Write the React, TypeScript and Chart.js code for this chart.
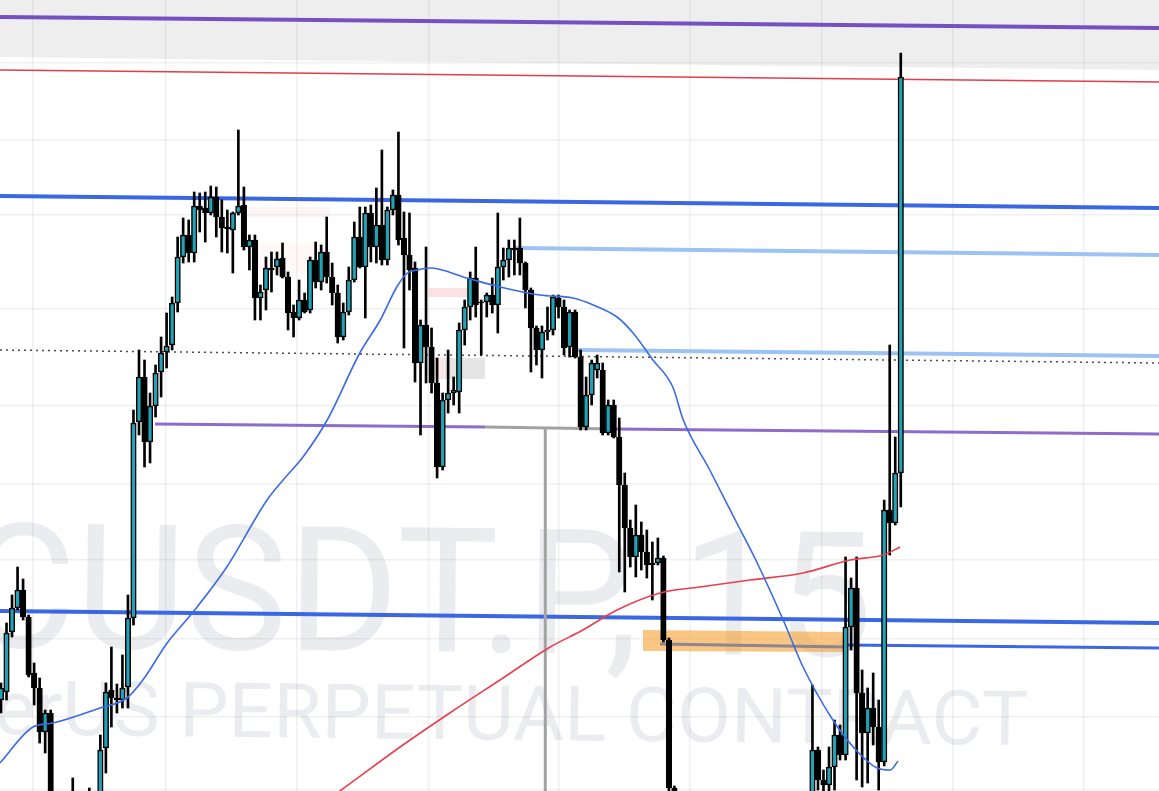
import React, { useEffect, useRef } from 'react';
import { Chart, registerables } from 'chart.js';

Chart.register(...registerables);

// ---- candles (index = bar number, price units) ----
const opens = [
  300, 308, 368, 392, 410, 383, 327, 312, 268, 287,
  170, 140, 155, 130, 170, 150, 165, 160, 190, 252,
  310, 302, 300, 313, 382, 578, 623, 558, 594, 628,
  648, 655, 697, 743, 765, 747, 794, 792, 787, 803,
  783, 773, 770, 787, 795, 753, 760, 702, 710, 732,
  733, 742, 723, 688, 682, 700, 690, 740, 718, 748,
  723, 707, 663, 688, 720, 763, 733, 787, 753, 775,
  740, 790, 805, 762, 745, 732, 637, 675, 653, 617,
  533, 600, 607, 608, 670, 693, 722, 698, 698, 705,
  695, 733, 740, 752, 752, 737, 710, 672, 650, 668,
  670, 702, 693, 653, 688, 643, 573, 605, 630, 630,
  567, 595, 563, 515, 472, 443, 465, 448, 437, 437,
  442, 360, 212, 200, 175, 155, 165, 125, 110, 120,
  95, 80, 90, 85, 110, 100, 120, 115, 135, 125,
  150, 140, 160, 155, 175, 170, 185, 200, 250, 220,
  215, 233, 265, 245, 373, 412, 307, 267, 292, 273,
  238, 490, 477, 527,
];
const highs = [
  317, 377, 405, 433, 421, 385, 337, 322, 290, 290,
  175, 165, 180, 222, 185, 200, 212, 205, 265, 317,
  353, 316, 345, 405, 590, 650, 640, 607, 635, 663,
  687, 703, 763, 782, 780, 808, 807, 808, 814, 813,
  800, 790, 788, 870, 813, 765, 765, 715, 743, 748,
  748, 757, 728, 695, 720, 707, 743, 758, 755, 783,
  737, 715, 697, 733, 778, 793, 793, 795, 812, 850,
  793, 810, 868, 788, 787, 738, 680, 753, 672, 642,
  607, 650, 623, 677, 700, 728, 753, 700, 707, 722,
  787, 752, 760, 760, 782, 738, 712, 674, 674, 693,
  705, 705, 700, 690, 690, 650, 623, 640, 645, 637,
  600, 600, 582, 527, 480, 495, 478, 470, 458, 462,
  444, 362, 214, 205, 185, 170, 175, 140, 130, 135,
  110, 100, 105, 120, 125, 130, 140, 145, 150, 155,
  165, 170, 180, 185, 195, 200, 202, 315, 253, 230,
  253, 280, 275, 443, 422, 443, 330, 312, 327, 300,
  500, 655, 563, 947,
];
const lows = [
  287, 300, 363, 390, 380, 323, 295, 257, 247, 160,
  130, 125, 120, 115, 140, 135, 150, 150, 185, 227,
  273, 287, 292, 292, 375, 565, 533, 537, 583, 603,
  632, 650, 688, 737, 738, 738, 768, 758, 785, 763,
  748, 747, 727, 785, 750, 730, 680, 680, 690, 708,
  725, 722, 670, 663, 680, 687, 687, 712, 710, 717,
  695, 657, 660, 685, 718, 732, 682, 738, 737, 735,
  735, 785, 755, 652, 710, 618, 565, 617, 607, 522,
  530, 587, 595, 587, 655, 680, 683, 645, 683, 687,
  667, 720, 723, 725, 725, 692, 628, 635, 622, 660,
  665, 682, 645, 643, 642, 570, 570, 595, 622, 565,
  565, 562, 428, 408, 433, 423, 430, 422, 400, 435,
  358, 205, 190, 170, 150, 130, 120, 100, 95, 90,
  70, 65, 75, 80, 95, 90, 105, 110, 120, 115,
  135, 130, 150, 145, 160, 155, 175, 195, 210, 200,
  205, 210, 240, 240, 350, 220, 213, 217, 255, 210,
  234, 445, 475, 493,
];
const closes = [
  312, 367, 392, 410, 383, 325, 312, 268, 287, 170,
  140, 155, 130, 170, 150, 165, 160, 190, 250, 308,
  302, 300, 312, 382, 577, 623, 558, 594, 627, 647,
  654, 697, 743, 765, 747, 794, 790, 787, 803, 783,
  772, 771, 787, 794, 753, 760, 702, 708, 732, 730,
  741, 723, 687, 682, 700, 688, 740, 718, 748, 723,
  707, 663, 688, 720, 763, 733, 787, 753, 775, 740,
  790, 805, 760, 745, 730, 637, 675, 653, 617, 533,
  600, 607, 610, 670, 693, 722, 695, 697, 705, 695,
  733, 740, 752, 750, 737, 710, 672, 650, 668, 670,
  703, 693, 652, 688, 643, 573, 605, 637, 637, 567,
  595, 563, 515, 472, 443, 465, 448, 435, 435, 442,
  360, 212, 200, 175, 155, 165, 125, 110, 120, 95,
  80, 90, 85, 110, 100, 120, 115, 135, 125, 150,
  140, 160, 155, 175, 170, 185, 200, 250, 220, 215,
  233, 265, 245, 373, 412, 307, 267, 292, 273, 238,
  490, 477, 527, 923,
];

// ---- moving averages (bar position, price) ----
const blueMaX = [-0.2, 5.8, 9.4, 17.9, 22.8, 25.7, 30.1, 34.8, 40.9, 48.2, 51.1, 54.7, 59.1, 65.0, 68.7, 71.7, 73.6, 75.4, 77.7, 84.4, 90.4, 97.6, 103.6, 107.3, 111.6, 114.5, 118.1, 121.7, 123.6, 128.4, 133.3, 137.0, 141.7, 145.3, 150.7, 154.4, 158.7, 161.1, 162.5];
const blueMaY = [237, 273, 277, 292, 302, 320, 357, 388, 433, 500, 520, 543, 580, 647, 680, 713, 727, 730, 732, 722, 713, 705, 702, 695, 683, 667, 640, 613, 580, 530, 477, 437, 380, 333, 280, 253, 232, 230, 239];
const redMaX = [57.8, 61.4, 72.3, 81.3, 90.4, 99.5, 105.4, 111.6, 119.4, 126.6, 135.7, 145.3, 153.8, 159.8, 162.9];
const redMaY = [195, 209, 253, 287, 320, 353, 370, 390, 407, 413, 420, 427, 440, 445, 453];

// ---- drawn levels ([start, end]) ----
const X_MIN = -0.181;
const X_MAX = 209.78;
const Y_MIN = 209;
const Y_MAX = 1000;
const fullX = [X_MIN, X_MAX];
const purpleTopY = [983, 972];
const bandEdgeY = [943, 930];
const redLevelY = [930, 918];
const blueUpperY = [804, 792];
const lightBlue1X = [93.1, X_MAX];
const lightBlue1Y = [752, 745];
const lightBlue2X = [104.0, X_MAX];
const lightBlue2Y = [650, 644];
const dottedY = [650, 637];
const purpleMidAX = [27.9, 87.7];
const purpleMidAY = [576, 573];
const grayMidX = [87.7, 111.2];
const grayMidY = [573, 571];
const purpleMidBX = [111.2, X_MAX];
const purpleMidBY = [571, 566];
const grayVertX = [98.6, 98.6];
const grayVertY = [573, 200];
const blueLowerY = [389, 377];
const blueLower2X = [152.9, X_MAX];
const blueLower2Y = [355, 352];
const orangeX = [116.3, 152.9];
const orangeTopY = [370, 368];
const orangeBottomY = [349, 348];
const grayInOrangeX = [119.4, 152.9];
const grayInOrangeY = [356, 353];
const pinkBoxX = [77.4, 85.0];
const pinkBoxTopY = [712, 712];
const pinkBoxBottomY = [703, 703];
const grayBoxX = [80.4, 87.7];
const grayBoxTopY = [642, 642];
const grayBoxBottomY = [621, 621];
const pinkSmallX = [78.3, 80.4];
const faintPink1X = [44.7, 59.6];
const faintPink1TopY = [793, 793];
const faintPink1BottomY = [783, 783];
const faintPink2X = [45.7, 59.6];
const faintPink2TopY = [757, 757];
const faintPink2BottomY = [727, 727];

const gridX = [5.8, 29.9, 53.6, 77.4, 101.1, 124.8, 148.7, 172.5, 196.2];
const gridY = [937, 860, 785, 691, 594, 516, 440, 361, 283, 210];

const wmLine1 = 'BTCUSDT.P, 15';
const wmLine1Tail = 'USDT.P, 15';
const wmLine2 = 'Bitcoin / TetherUS PERPETUAL CONTRACT';
const wmLine2Tail = 'US PERPETUAL CONTRACT';

const TEAL = '#22a2b4';

function seg(xs: number[], ys: number[]) {
  return [
    { x: xs[0], y: ys[0] },
    { x: xs[1], y: ys[1] },
  ];
}

function lineDs(xs: number[], ys: number[], color: string, width: number, order: number, extra: any = {}) {
  return {
    type: 'line',
    data: seg(xs, ys),
    borderColor: color,
    borderWidth: width,
    pointRadius: 0,
    fill: false,
    order,
    ...extra,
  };
}

function rectDs(xs: number[], top: number[], bottom: number[], color: string, order: number) {
  return [
    {
      type: 'line',
      data: seg(xs, top),
      borderWidth: 0,
      borderColor: 'rgba(0,0,0,0)',
      pointRadius: 0,
      fill: '+1',
      backgroundColor: color,
      order,
    },
    {
      type: 'line',
      data: seg(xs, bottom),
      borderWidth: 0,
      borderColor: 'rgba(0,0,0,0)',
      pointRadius: 0,
      fill: false,
      order,
    },
  ];
}

const watermarkPlugin = {
  id: 'watermark',
  beforeDraw(chart: any) {
    const { ctx } = chart;
    ctx.save();
    ctx.fillStyle = 'rgba(150,160,175,0.2)';
    ctx.textAlign = 'right';
    ctx.textBaseline = 'alphabetic';

    ctx.font = '174px Roboto, "Liberation Sans", sans-serif';
    let s = (872 - 75) / ctx.measureText(wmLine1Tail).width;
    ctx.save();
    ctx.translate(872, 656);
    ctx.rotate(0.0103);
    ctx.scale(s, 1);
    ctx.fillText(wmLine1, 0, 0);
    ctx.restore();

    ctx.font = '76px Roboto, "Liberation Sans", sans-serif';
    s = (1028 - 62) / ctx.measureText(wmLine2Tail).width;
    ctx.save();
    ctx.translate(1028, 745);
    ctx.rotate(0.0103);
    ctx.scale(s, 1);
    ctx.fillText(wmLine2, 0, 0);
    ctx.restore();

    ctx.restore();
  },
};

export default function App() {
  const ref = useRef<HTMLCanvasElement | null>(null);

  useEffect(() => {
    document.body.style.margin = '0';
    document.body.style.background = '#ffffff';
    const canvas = ref.current;
    if (!canvas) return;

    const wicks = opens.map((_, i) => ({ x: i, y: [lows[i], highs[i]] }));
    const bodies = opens.map((o, i) => ({ x: i, y: [o, closes[i]] }));
    const bodyColors = opens.map((o, i) => (closes[i] > o ? TEAL : '#000000'));

    const datasets: any[] = [
      lineDs(fullX, bandEdgeY, 'rgba(0,0,0,0)', 0, 100, { fill: 'end', backgroundColor: 'rgba(0,0,0,0.068)' }),
      ...rectDs(faintPink1X, faintPink1TopY, faintPink1BottomY, 'rgba(240,170,170,0.12)', 95),
      ...rectDs(faintPink2X, faintPink2TopY, faintPink2BottomY, 'rgba(240,170,170,0.08)', 95),
      ...rectDs(pinkBoxX, pinkBoxTopY, pinkBoxBottomY, 'rgba(240,150,150,0.28)', 94),
      ...rectDs(grayBoxX, grayBoxTopY, grayBoxBottomY, 'rgba(0,0,0,0.1)', 94),
      ...rectDs(pinkSmallX, grayBoxTopY, grayBoxBottomY, 'rgba(240,150,150,0.25)', 94),
      lineDs(fullX, purpleTopY, '#7650c0', 4, 60),
      lineDs(fullX, redLevelY, '#e33c4a', 1.6, 60),
      lineDs(fullX, blueUpperY, '#3a67e4', 4, 60),
      lineDs(lightBlue1X, lightBlue1Y, '#9dc3f3', 4, 60),
      lineDs(lightBlue2X, lightBlue2Y, '#9dc3f3', 4, 60),
      lineDs(fullX, dottedY, '#4a4a4a', 1.5, 59, { borderDash: [2, 4] }),
      lineDs(purpleMidAX, purpleMidAY, '#8e6ccb', 3, 60),
      lineDs(grayMidX, grayMidY, '#a2a2a2', 3, 60),
      lineDs(purpleMidBX, purpleMidBY, '#8e6ccb', 3, 60),
      lineDs(grayVertX, grayVertY, '#a2a2a2', 3, 60),
      lineDs(fullX, blueLowerY, '#3a67e4', 4, 60),
      lineDs(blueLower2X, blueLower2Y, '#3a67e4', 3, 60),
      ...rectDs(orangeX, orangeTopY, orangeBottomY, 'rgba(245,160,50,0.6)', 55),
      lineDs(grayInOrangeX, grayInOrangeY, '#8c8490', 3, 54),
      {
        type: 'bar',
        data: wicks,
        backgroundColor: '#000000',
        borderWidth: 0,
        barThickness: 2,
        grouped: false,
        order: 20,
      },
      {
        type: 'bar',
        data: bodies,
        backgroundColor: bodyColors,
        borderColor: '#000000',
        borderWidth: 1.5,
        borderSkipped: false,
        barThickness: 5.5,
        grouped: false,
        order: 10,
      },
      {
        type: 'line',
        data: blueMaX.map((x, i) => ({ x, y: blueMaY[i] })),
        borderColor: '#3a6ae8',
        borderWidth: 1.6,
        pointRadius: 0,
        fill: false,
        cubicInterpolationMode: 'monotone',
        order: 5,
      },
      {
        type: 'line',
        data: redMaX.map((x, i) => ({ x, y: redMaY[i] })),
        borderColor: '#e8404c',
        borderWidth: 1.6,
        pointRadius: 0,
        fill: false,
        cubicInterpolationMode: 'monotone',
        order: 5,
      },
    ];

    const chart = new Chart(canvas, {
      type: 'bar',
      data: { datasets },
      options: {
        responsive: false,
        animation: false,
        events: [],
        layout: { padding: 0 },
        plugins: {
          legend: { display: false },
          tooltip: { enabled: false },
          title: { display: false },
        },
        scales: {
          x: {
            type: 'linear',
            min: X_MIN,
            max: X_MAX,
            offset: false,
            ticks: { display: false },
            grid: { color: 'rgba(0,0,0,0.06)', lineWidth: 1.5, drawTicks: false, offset: false },
            border: { display: false },
            afterBuildTicks: (axis: any) => {
              axis.ticks = gridX.map((v) => ({ value: v }));
            },
          },
          y: {
            type: 'linear',
            min: Y_MIN,
            max: Y_MAX,
            ticks: { display: false },
            grid: { color: 'rgba(0,0,0,0.06)', lineWidth: 1.5, drawTicks: false },
            border: { display: false },
            afterBuildTicks: (axis: any) => {
              axis.ticks = gridY.map((v) => ({ value: v }));
            },
          },
        },
      } as any,
      plugins: [watermarkPlugin],
    } as any);

    return () => chart.destroy();
  }, []);

  return <canvas ref={ref} width={1159} height={791} style={{ display: 'block' }} />;
}
